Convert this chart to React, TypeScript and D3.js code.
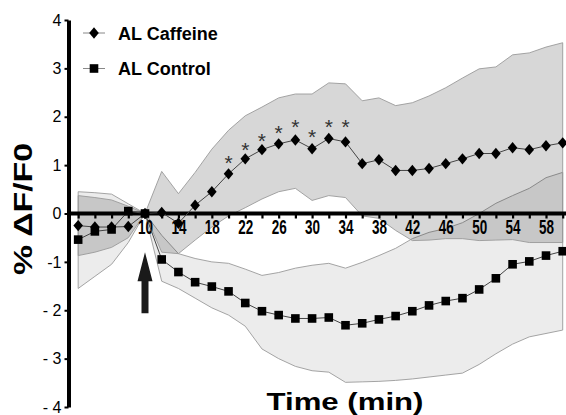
import * as React from 'react'
import * as d3 from 'd3'

// time points (min)
const times = [2, 4, 6, 8, 10, 12, 14, 16, 18, 20, 22, 24, 26, 28, 30, 32, 34, 36, 38, 40, 42, 44, 46, 48, 50, 52, 54, 56, 58, 60]

// AL Caffeine mean and band
const caffeine = [-0.25, -0.28, -0.28, -0.27, 0, 0.02, -0.2, 0.17, 0.45, 0.82, 1.13, 1.32, 1.44, 1.52, 1.34, 1.55, 1.48, 1.03, 1.11, 0.89, 0.89, 0.93, 1.03, 1.13, 1.24, 1.24, 1.36, 1.32, 1.4, 1.46]
const caffeineHi = [0.37, 0.33, 0.28, 0.15, 0, 0.87, 0.41, 0.85, 1.33, 1.72, 2.02, 2.2, 2.39, 2.47, 2.47, 2.7, 2.68, 2.33, 2.39, 2.23, 2.29, 2.43, 2.6, 2.8, 2.99, 3.03, 3.28, 3.32, 3.44, 3.53]
const caffeineLo = [-0.87, -0.8, -0.7, -0.5, 0, -0.8, -0.83, -0.55, -0.28, -0.05, 0.12, 0.3, 0.45, 0.52, 0.27, 0.37, 0.33, -0.05, -0.1, -0.35, -0.56, -0.55, -0.52, -0.52, -0.56, -0.55, -0.54, -0.6, -0.6, -0.6]

// AL Control mean and band
const control = [-0.54, -0.37, -0.33, 0.05, 0, -0.95, -1.21, -1.42, -1.51, -1.61, -1.85, -2.02, -2.1, -2.17, -2.17, -2.15, -2.31, -2.27, -2.19, -2.12, -2.02, -1.9, -1.81, -1.75, -1.57, -1.34, -1.05, -0.99, -0.87, -0.78]
const controlHi = [0.45, 0.43, 0.4, 0.2, 0, -0.45, -0.83, -0.93, -1.0, -1.03, -1.15, -1.28, -1.22, -1.13, -1.07, -1.03, -1.13, -1.01, -0.87, -0.72, -0.52, -0.39, -0.31, -0.19, 0, 0.21, 0.37, 0.52, 0.74, 0.85]
const controlLo = [-1.55, -1.3, -1.05, -0.6, 0, -1.4, -1.55, -1.75, -1.95, -2.1, -2.33, -2.8, -3.0, -3.16, -3.25, -3.28, -3.49, -3.48, -3.47, -3.45, -3.42, -3.38, -3.34, -3.3, -3.12, -2.9, -2.7, -2.55, -2.48, -2.41]

// significance stars
const sigTimes = [20, 22, 24, 26, 28, 30, 32, 34]
const sigLevels = [1.13, 1.4, 1.59, 1.75, 1.88, 1.67, 1.88, 1.88]

const xTickLabels = [10, 14, 18, 22, 26, 30, 34, 38, 42, 46, 50, 54, 58]
const yTicks = [4, 3, 2, 1, 0, -1, -2, -3, -4]
const yTickLabels = ['4', '3', '2', '1', '0', '-1', '- 2', '- 3', '- 4']

const legend = ['AL Caffeine', 'AL Control']

const font = '"Liberation Sans", Arial, sans-serif'
const narrow = '"Liberation Sans Narrow", "Arial Narrow", "Liberation Sans", Arial, sans-serif'
const diamondPath = 'M0,-5.7L4.8,0L0,5.7L-4.8,0Z'

export default class App extends React.Component {
  ref: React.RefObject<SVGSVGElement>
  constructor(props: any) {
    super(props)
    this.ref = React.createRef()
  }

  componentDidMount() {
    this.draw()
  }

  draw() {
    const svg = d3.select(this.ref.current)
    svg.selectAll('*').remove()

    const x = d3.scaleLinear().domain([10, 58]).range([145, 546])
    const y = d3.scaleLinear().domain([-4, 4]).range([407, 20])

    const rows = (mean: number[], hi: number[], lo: number[]) =>
      times.map((t, i) => ({ t, v: mean[i], hi: hi[i], lo: lo[i] }))
    const caf = rows(caffeine, caffeineHi, caffeineLo)
    const con = rows(control, controlHi, controlLo)

    const area = d3.area<any>()
      .x(d => x(d.t))
      .y0(d => y(d.lo))
      .y1(d => y(d.hi))

    svg.append('path')
      .attr('d', area(con))
      .attr('fill', '#000').attr('fill-opacity', 0.075)
      .attr('stroke', '#9a9a9a').attr('stroke-width', 0.9)
    svg.append('path')
      .attr('d', area(caf))
      .attr('fill', '#000').attr('fill-opacity', 0.155)
      .attr('stroke', '#9a9a9a').attr('stroke-width', 0.9)

    // arrow at t = 10
    const ax = x(10)
    svg.append('path')
      .attr('d', `M${ax},${y(-0.8)}L${ax + 7.5},${y(-1.4)}L${ax + 3.5},${y(-1.4)}L${ax + 3.5},${y(-2.06)}L${ax - 3.5},${y(-2.06)}L${ax - 3.5},${y(-1.4)}L${ax - 7.5},${y(-1.4)}Z`)
      .attr('fill', '#1a1a1a')

    // axes
    const yAxis = d3.axisLeft(y)
      .tickValues(yTicks)
      .tickFormat((d, i) => yTickLabels[i])
      .tickSize(4)
      .tickSizeOuter(0)
      .tickPadding(3)
    const gy = svg.append('g')
      .attr('transform', 'translate(68.5,0)')
      .call(yAxis)
    gy.select('.domain').attr('stroke', '#000').attr('stroke-width', 4)
    gy.selectAll('.tick line').attr('stroke', '#000').attr('stroke-width', 2)
    gy.selectAll('.tick text')
      .attr('font-family', narrow).attr('font-size', 16).attr('fill', '#000')

    const y0 = y(0)
    const xAxis = d3.axisBottom(x)
      .tickValues(times)
      .tickFormat(d => xTickLabels.includes(+d) ? String(d) : '')
      .tickSize(4)
      .tickSizeOuter(0)
      .tickPadding(3)
    const gx = svg.append('g')
      .attr('transform', `translate(0,${y0 + 1})`)
      .call(xAxis)
    gx.select('.domain').remove()
    gx.selectAll('.tick line').attr('stroke', '#000').attr('stroke-width', 2.2)
    gx.selectAll('.tick text')
      .attr('font-family', narrow).attr('font-size', 20).attr('font-weight', 'bold')
      .attr('fill', '#000').attr('dy', '0.62em')
      .attr('textLength', 15).attr('lengthAdjust', 'spacingAndGlyphs')
    svg.append('line')
      .attr('x1', 67).attr('x2', 566)
      .attr('y1', y0).attr('y2', y0)
      .attr('stroke', '#000').attr('stroke-width', 4)

    // series
    const line = d3.line<any>().x(d => x(d.t)).y(d => y(d.v))
    ;[caf, con].forEach(data => {
      svg.append('path')
        .attr('d', line(data))
        .attr('fill', 'none')
        .attr('stroke', '#444').attr('stroke-width', 1)
    })

    svg.selectAll('.diamond')
      .data(caf)
      .enter().append('path')
      .attr('class', 'diamond')
      .attr('d', diamondPath)
      .attr('transform', d => `translate(${x(d.t)},${y(d.v)})`)
      .attr('fill', '#000')

    svg.selectAll('.square')
      .data(con)
      .enter().append('rect')
      .attr('class', 'square')
      .attr('x', d => x(d.t) - 4.3).attr('y', d => y(d.v) - 4.3)
      .attr('width', 8.6).attr('height', 8.6)
      .attr('fill', '#000')

    svg.selectAll('.star')
      .data(sigTimes)
      .enter().append('text')
      .attr('class', 'star')
      .attr('x', d => x(d))
      .attr('y', (d, i) => y(sigLevels[i]) + 11)
      .attr('text-anchor', 'middle')
      .attr('font-family', font).attr('font-size', 21)
      .attr('fill', '#333')
      .text('*')

    // legend
    const lg = svg.append('g')
    legend.forEach((name, i) => {
      const ly = 33 + i * 35.5
      lg.append('line')
        .attr('x1', 83).attr('x2', 105).attr('y1', ly).attr('y2', ly)
        .attr('stroke', '#888').attr('stroke-width', 1)
      if (i === 0) {
        lg.append('path').attr('d', diamondPath)
          .attr('transform', `translate(94,${ly})`).attr('fill', '#000')
      } else {
        lg.append('rect').attr('x', 89.7).attr('y', ly - 4.3)
          .attr('width', 8.6).attr('height', 8.6).attr('fill', '#000')
      }
      lg.append('text')
        .attr('x', 118).attr('y', ly + 6.5)
        .attr('font-family', font).attr('font-size', 18).attr('font-weight', 'bold')
        .attr('fill', '#000')
        .text(name)
    })

    // titles
    svg.append('text')
      .attr('x', 345).attr('y', 410)
      .attr('text-anchor', 'middle')
      .attr('font-family', font).attr('font-size', 24).attr('font-weight', 'bold')
      .attr('textLength', 157).attr('lengthAdjust', 'spacingAndGlyphs')
      .text('Time (min)')

    svg.append('text')
      .attr('transform', 'translate(32,209) rotate(-90)')
      .attr('text-anchor', 'middle')
      .attr('font-family', font).attr('font-size', 26).attr('font-weight', 'bold')
      .attr('textLength', 132).attr('lengthAdjust', 'spacingAndGlyphs')
      .text('% ΔF/F0')
  }

  render() {
    return (
      <svg ref={this.ref} width={566} height={415}
        style={{ position: 'absolute', left: 0, top: 0, background: '#fff' }} />
    )
  }
}
